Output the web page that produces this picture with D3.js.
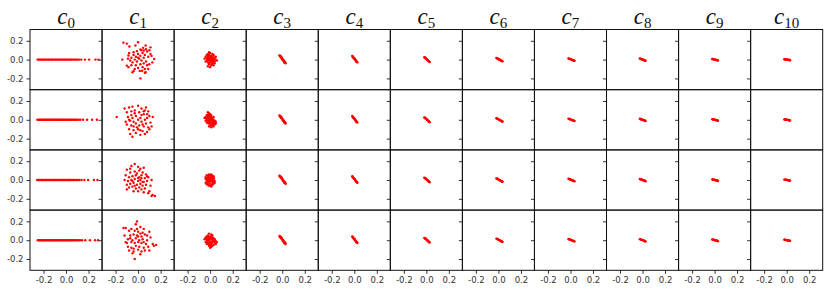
<!DOCTYPE html>
<html>
<head>
<meta charset="utf-8">
<script src="https://cdn.jsdelivr.net/npm/d3@7"></script>
<style>
  body { margin: 0; background: #fff; }
  svg { display: block; }
</style>
</head>
<body>
<script>
const width = 831;
const height = 294;
const margin = { top: 29.5, right: 8.3, bottom: 23.7, left: 30 };

const columns = ["0", "1", "2", "3", "4", "5", "6", "7", "8", "9", "10"];
const ticks = [-0.2, 0.0, 0.2];
const tickLabels = ["-0.2", "0.0", "0.2"];

// column c0: all points on y = 0, x values per row
const c0x = [
  [-0.252, -0.243, -0.236, -0.224, -0.217, -0.205, -0.198, -0.186, -0.179, -0.168, -0.156, -0.149, -0.137, -0.128, -0.118, -0.109, -0.097, -0.088, -0.079, -0.066, -0.057, -0.048, -0.036, -0.027, -0.015, -0.006, 0.004, 0.013, 0.025, 0.036, 0.044, 0.055, 0.067, 0.078, 0.089, 0.101, 0.116, 0.135, 0.168, 0.205, 0.262, 0.288],
  [-0.254, -0.241, -0.232, -0.221, -0.213, -0.203, -0.192, -0.184, -0.171, -0.163, -0.152, -0.141, -0.133, -0.121, -0.112, -0.102, -0.091, -0.083, -0.071, -0.062, -0.051, -0.042, -0.031, -0.022, -0.011, -0.002, 0.009, 0.018, 0.029, 0.041, 0.052, 0.063, 0.074, 0.086, 0.098, 0.112, 0.128, 0.152, 0.187, 0.232, 0.274],
  [-0.256, -0.246, -0.238, -0.227, -0.214, -0.207, -0.195, -0.183, -0.176, -0.164, -0.154, -0.143, -0.131, -0.124, -0.113, -0.104, -0.093, -0.081, -0.073, -0.061, -0.053, -0.041, -0.033, -0.021, -0.012, 0.001, 0.011, 0.022, 0.032, 0.043, 0.054, 0.066, 0.077, 0.091, 0.104, 0.119, 0.138, 0.163, 0.196, 0.248, 0.279],
  [-0.251, -0.239, -0.231, -0.222, -0.211, -0.201, -0.191, -0.181, -0.172, -0.161, -0.151, -0.142, -0.132, -0.122, -0.111, -0.101, -0.092, -0.082, -0.072, -0.063, -0.052, -0.043, -0.032, -0.023, -0.013, -0.003, 0.008, 0.017, 0.027, 0.038, 0.048, 0.059, 0.071, 0.083, 0.095, 0.108, 0.124, 0.143, 0.171, 0.212, 0.258, 0.285]
];

// column c1: [x, y] per row
const c1 = [
  [[-0.13,0.18],[-0.10,0.17],[-0.077,0.14],[-0.024,0.15],[0.0,0.185],[0.067,0.15],[0.11,0.13],[0.021,0.107],[0.05,0.096],[0.08,0.086],[-0.04,0.078],[-0.085,0.043],[-0.14,0.0],[0.143,0.007],[0.127,-0.03],[-0.10,-0.064],[-0.085,-0.08],[-0.05,-0.135],[0.021,-0.2],[0.067,-0.135],[0.036,-0.118],[-0.06,0.02],[-0.04,0.05],[-0.02,0.03],[0.0,0.06],[0.02,0.04],[0.04,0.07],[0.06,0.05],[0.09,0.03],[0.11,0.06],[-0.07,-0.01],[-0.05,-0.03],[-0.03,0.0],[-0.01,-0.02],[0.01,0.01],[0.03,-0.01],[0.05,0.02],[0.07,-0.02],[0.10,-0.05],[-0.09,0.01],[-0.02,-0.06],[0.0,-0.09],[0.02,-0.05],[0.04,-0.08],[0.06,-0.1],[0.08,-0.06],[-0.06,-0.06],[-0.03,-0.1],[0.05,-0.04],[0.03,0.1],[-0.01,0.09],[0.07,0.11],[0.09,-0.1],[0.1,0.1],[-0.04,-0.12],[0.0,0.02],[0.06,-0.14],[0.12,0.04],[-0.08,0.07],[0.015,-0.12],[0.045,0.125]],
  [[-0.19,0.03],[-0.12,0.12],[-0.08,0.13],[-0.05,0.14],[0.0,0.15],[0.03,0.12],[0.06,0.1],[0.09,0.09],[-0.1,0.08],[-0.06,0.09],[-0.03,0.07],[0.01,0.08],[0.05,0.06],[0.1,0.04],[0.13,0.03],[-0.09,0.03],[-0.05,0.02],[-0.02,0.04],[0.02,0.02],[0.06,0.0],[0.08,0.02],[-0.07,-0.01],[-0.04,-0.02],[0.0,0.0],[0.03,-0.02],[0.07,-0.04],[0.11,-0.03],[-0.1,-0.05],[-0.06,-0.06],[-0.02,-0.04],[0.01,-0.06],[0.05,-0.07],[0.09,-0.08],[0.12,-0.07],[-0.08,-0.1],[-0.04,-0.11],[0.0,-0.1],[0.04,-0.12],[0.08,-0.13],[-0.07,-0.15],[-0.02,-0.14],[0.02,-0.16],[0.06,-0.15],[-0.05,-0.18],[0.04,-0.05],[-0.03,0.1],[0.07,0.13],[-0.08,0.0],[0.1,-0.1],[-0.01,-0.08],[0.03,0.05],[-0.06,0.05],[0.02,-0.11],[0.08,0.06],[-0.11,-0.02],[0.05,0.09],[-0.04,-0.07]],
  [[-0.03,0.17],[-0.06,0.15],[0.0,0.14],[0.05,0.13],[-0.1,0.11],[-0.07,0.08],[-0.03,0.09],[0.01,0.1],[0.04,0.08],[0.07,0.06],[-0.11,0.05],[-0.08,0.03],[-0.05,0.04],[-0.02,0.05],[0.01,0.03],[0.03,0.05],[0.06,0.02],[0.09,0.03],[-0.12,0.0],[-0.09,-0.01],[-0.06,0.0],[-0.03,0.01],[0.0,-0.01],[0.02,0.0],[0.05,-0.02],[0.08,-0.01],[0.12,0.0],[-0.1,-0.05],[-0.07,-0.04],[-0.04,-0.03],[-0.01,-0.05],[0.02,-0.04],[0.04,-0.06],[0.07,-0.05],[-0.08,-0.08],[-0.05,-0.07],[-0.02,-0.09],[0.01,-0.08],[0.03,-0.1],[0.06,-0.09],[-0.1,-0.1],[-0.04,-0.12],[0.0,-0.12],[0.05,-0.13],[0.09,-0.14],[0.1,-0.12],[0.13,-0.16],[0.15,-0.17],[0.12,-0.17],[-0.01,0.07],[0.02,0.12],[-0.07,0.12],[0.04,-0.02],[-0.03,-0.06],[0.08,0.04],[0.11,-0.06],[0.0,0.02],[-0.05,-0.01],[0.03,0.02]],
  [[-0.01,0.2],[-0.02,0.17],[-0.13,0.13],[-0.11,0.13],[-0.06,0.12],[0.02,0.14],[0.05,0.12],[-0.08,0.1],[-0.03,0.1],[0.0,0.09],[0.04,0.08],[0.1,0.09],[-0.12,0.05],[-0.07,0.05],[-0.04,0.06],[-0.01,0.05],[0.03,0.04],[0.06,0.06],[0.11,0.03],[-0.09,0.01],[-0.05,0.0],[-0.02,0.02],[0.01,0.0],[0.04,0.01],[0.08,0.0],[-0.1,-0.03],[-0.06,-0.02],[-0.03,-0.03],[0.0,-0.02],[0.03,-0.03],[0.07,-0.04],[0.13,-0.04],[0.16,-0.05],[0.14,-0.06],[-0.09,-0.07],[-0.06,-0.08],[-0.02,-0.06],[0.01,-0.07],[0.05,-0.08],[0.1,-0.11],[-0.08,-0.11],[-0.04,-0.12],[0.0,-0.1],[0.03,-0.12],[0.06,-0.11],[-0.05,-0.14],[0.02,-0.15],[-0.03,-0.2],[-0.07,0.02],[0.05,-0.02],[-0.01,0.12],[0.08,0.05],[-0.11,-0.02],[0.02,0.07],[-0.04,-0.09],[0.09,-0.07],[0.0,0.04]]
];

// column c2: [x, y] per row
const c2 = [
  [[-0.01,0.08],[0.0,0.07],[0.02,0.06],[-0.03,0.05],[-0.01,0.05],[0.01,0.04],[0.03,0.04],[-0.04,0.03],[-0.02,0.03],[0.0,0.02],[0.02,0.02],[0.04,0.02],[-0.03,0.01],[-0.01,0.0],[0.01,0.01],[0.03,0.0],[0.05,0.0],[-0.02,-0.01],[0.0,-0.01],[0.02,-0.02],[0.04,-0.02],[-0.04,-0.02],[-0.02,-0.03],[0.0,-0.03],[0.02,-0.04],[0.04,-0.04],[-0.01,-0.05],[0.01,-0.06],[0.03,-0.06],[-0.02,-0.07],[0.0,-0.08],[0.02,0.0],[-0.01,0.02],[0.01,-0.02],[0.06,-0.01],[-0.05,0.01],[0.05,0.03],[0.03,0.05],[-0.02,0.06],[0.0,0.04],[-0.015,0.035],[0.015,0.025],[-0.025,0.015],[0.025,0.01],[-0.005,0.01],[0.01,-0.005],[-0.03,-0.01],[0.03,-0.025],[-0.01,-0.035],[0.015,-0.045],[0.035,-0.015],[-0.02,0.045]],
  [[-0.02,0.08],[-0.01,0.07],[0.0,0.06],[-0.03,0.05],[-0.01,0.04],[0.01,0.05],[-0.04,0.03],[-0.02,0.02],[0.0,0.03],[0.02,0.02],[0.03,0.03],[-0.03,0.0],[-0.01,0.01],[0.01,0.0],[0.03,0.0],[0.04,-0.01],[-0.04,-0.01],[-0.02,-0.02],[0.0,-0.01],[0.02,-0.02],[0.05,-0.02],[-0.03,-0.03],[-0.01,-0.04],[0.01,-0.03],[0.03,-0.04],[0.04,-0.05],[0.0,-0.06],[0.02,-0.06],[0.03,-0.07],[-0.01,-0.07],[0.01,-0.08],[0.0,0.01],[0.02,0.0],[-0.02,0.05],[-0.05,0.02],[0.05,-0.04],[0.01,0.03],[-0.01,-0.02],[-0.015,0.055],[-0.025,0.035],[0.005,0.04],[-0.035,0.015],[0.015,0.015],[0.025,-0.01],[-0.015,-0.005],[0.01,-0.045],[0.035,-0.025],[-0.02,-0.035],[0.02,-0.05]],
  [[-0.01,0.06],[0.01,0.06],[-0.03,0.05],[0.0,0.05],[0.02,0.04],[-0.04,0.03],[-0.02,0.03],[0.0,0.03],[0.02,0.02],[0.03,0.01],[-0.04,0.01],[-0.02,0.0],[0.0,0.01],[0.02,0.0],[0.04,-0.01],[-0.03,-0.01],[-0.01,-0.02],[0.01,-0.01],[0.03,-0.02],[-0.04,-0.03],[-0.02,-0.03],[0.0,-0.04],[0.02,-0.03],[0.04,-0.03],[-0.02,-0.05],[0.0,-0.06],[0.02,-0.05],[0.01,-0.07],[-0.01,0.02],[0.01,0.03],[-0.03,0.02],[0.03,-0.04],[-0.01,-0.06],[0.0,-0.01],[0.03,0.04],[-0.015,0.045],[0.015,0.045],[-0.025,0.01],[0.01,0.015],[-0.01,-0.01],[0.025,-0.01],[-0.03,-0.045],[0.01,-0.055],[-0.02,-0.015],[0.035,0.02]],
  [[-0.01,0.07],[0.01,0.06],[-0.02,0.05],[0.0,0.04],[0.02,0.05],[-0.04,0.03],[-0.02,0.02],[0.0,0.02],[0.02,0.03],[0.04,0.01],[-0.05,0.01],[-0.03,0.0],[-0.01,0.0],[0.01,0.01],[0.03,0.0],[0.05,-0.01],[0.06,-0.02],[-0.04,-0.02],[-0.02,-0.02],[0.0,-0.02],[0.02,-0.01],[0.04,-0.03],[-0.03,-0.04],[-0.01,-0.04],[0.01,-0.04],[0.03,-0.05],[0.05,-0.04],[-0.01,-0.06],[0.01,-0.07],[0.0,-0.08],[0.02,-0.06],[-0.02,0.0],[0.01,-0.02],[0.03,0.02],[-0.03,0.04],[0.0,-0.05],[-0.01,0.035],[0.015,0.035],[-0.035,0.015],[0.025,0.015],[-0.005,0.005],[0.015,-0.03],[-0.025,-0.03],[0.035,-0.015],[0.005,-0.065]]
];

// columns c3..c10: narrow diagonal clusters, near-identical in every row
const c3 = [[-0.025,0.045],[-0.02,0.04],[-0.018,0.032],[-0.012,0.03],[-0.01,0.02],[-0.005,0.018],[0.0,0.01],[0.004,0.002],[0.008,0.0],[0.012,-0.01],[0.015,-0.016],[0.02,-0.022],[0.022,-0.03],[0.027,-0.034],[0.03,-0.04],[-0.015,0.038],[0.005,-0.008],[0.018,-0.03],[-0.006,0.026],[0.025,-0.025]];
const c4 = [[-0.018,0.04],[-0.014,0.034],[-0.01,0.028],[-0.006,0.02],[-0.002,0.014],[0.002,0.008],[0.006,0.002],[0.01,-0.004],[0.014,-0.01],[0.018,-0.016],[0.022,-0.022],[0.027,-0.03],[-0.012,0.026],[0.004,0.01],[0.016,-0.02],[0.024,-0.024]];
const c5 = [[-0.018,0.025],[-0.013,0.022],[-0.009,0.016],[-0.004,0.012],[0.0,0.007],[0.005,0.002],[0.01,-0.003],[0.015,-0.008],[0.02,-0.014],[0.025,-0.019],[0.03,-0.025],[-0.01,0.02],[0.008,0.0],[0.022,-0.02]];
const c6 = [[-0.018,0.017],[-0.012,0.014],[-0.007,0.01],[-0.002,0.007],[0.004,0.003],[0.01,-0.001],[0.016,-0.005],[0.022,-0.009],[0.028,-0.013],[0.033,-0.016],[0.036,-0.018],[-0.008,0.013],[0.014,-0.002],[0.03,-0.016]];
const c7 = [[-0.018,0.013],[-0.012,0.01],[-0.006,0.008],[0.0,0.005],[0.006,0.002],[0.012,-0.001],[0.018,-0.004],[0.024,-0.007],[0.03,-0.01],[0.036,-0.013],[-0.004,0.006],[0.02,-0.006]];
const c8 = [[-0.024,0.011],[-0.018,0.009],[-0.012,0.006],[-0.006,0.003],[0.0,0.001],[0.006,-0.002],[0.012,-0.005],[0.018,-0.008],[0.023,-0.011],[0.027,-0.013],[-0.01,0.004],[0.015,-0.006]];
const c9 = [[-0.021,0.007],[-0.015,0.006],[-0.009,0.004],[-0.003,0.002],[0.003,0.0],[0.009,-0.002],[0.015,-0.004],[0.021,-0.006],[0.026,-0.008],[0.03,-0.01],[-0.012,0.003],[0.018,-0.003]];
const c10 = [[-0.021,0.004],[-0.015,0.004],[-0.009,0.003],[-0.003,0.002],[0.003,0.0],[0.009,-0.001],[0.015,-0.003],[0.021,-0.004],[0.026,-0.006],[0.03,-0.007],[-0.012,0.001],[0.018,-0.002]];

const nRows = 4;
const tail = [c3, c4, c5, c6, c7, c8, c9, c10];

function pointsFor(row, col) {
  if (col === 0) return c0x[row].map((x) => [x, 0]);
  if (col === 1) return c1[row];
  if (col === 2) return c2[row];
  return tail[col - 3];
}

const svg = d3
  .select("body")
  .append("svg")
  .attr("width", width)
  .attr("height", height);

const colScale = d3
  .scaleBand()
  .domain(d3.range(columns.length))
  .range([margin.left, width - margin.right])
  .padding(0);
const rowScale = d3
  .scaleBand()
  .domain(d3.range(nRows))
  .range([margin.top, height - margin.bottom])
  .padding(0);

const pw = colScale.bandwidth();
const ph = rowScale.bandwidth();

const x = d3.scaleLinear().domain([-0.32, 0.32]).range([0, pw]);
const y = d3.scaleLinear().domain([-0.32, 0.32]).range([ph, 0]);

const fmt = (d) => tickLabels[ticks.indexOf(d)];

for (let r = 0; r < nRows; r++) {
  for (let c = 0; c < columns.length; c++) {
    const g = svg
      .append("g")
      .attr("transform", `translate(${colScale(c)},${rowScale(r)})`);

    g.append("g")
      .attr("fill", "#ff0000")
      .selectAll("circle")
      .data(pointsFor(r, c))
      .join("circle")
      .attr("cx", (d) => x(d[0]))
      .attr("cy", (d) => y(d[1]))
      .attr("r", 1.2);

    // y ticks on every panel, labels only in the first column
    const ya = g
      .append("g")
      .call(
        d3
          .axisLeft(y)
          .tickValues(ticks)
          .tickSize(3.5)
          .tickPadding(3)
          .tickFormat(c === 0 ? fmt : () => "")
      );
    ya.select(".domain").remove();

    if (r === nRows - 1) {
      const xa = g
        .append("g")
        .attr("transform", `translate(0,${ph})`)
        .call(
          d3.axisBottom(x).tickValues(ticks).tickSize(3.5).tickPadding(3).tickFormat(fmt)
        );
      xa.select(".domain").remove();
    }

    g.append("rect")
      .attr("width", pw)
      .attr("height", ph)
      .attr("fill", "none")
      .attr("stroke", "#111")
      .attr("stroke-width", 1);

    if (r === 0) {
      const t = g
        .append("text")
        .attr("x", pw / 2)
        .attr("y", -5.5)
        .attr("text-anchor", "middle")
        .attr("font-family", "Liberation Serif")
        .attr("font-weight", "normal")
        .attr("fill", "#111");
      t.append("tspan")
        .attr("font-style", "italic")
        .attr("font-size", 23)
        .text("c");
      t.append("tspan")
        .attr("font-size", 15)
        .attr("dy", 3.5)
        .text(columns[c]);
    }
  }
}

svg
  .selectAll(".tick text")
  .attr("font-family", "DejaVu Sans")
  .attr("font-size", 8.5)
  .attr("fill", "#333");
svg.selectAll(".tick line").attr("stroke", "#333");
</script>
</body>
</html>
